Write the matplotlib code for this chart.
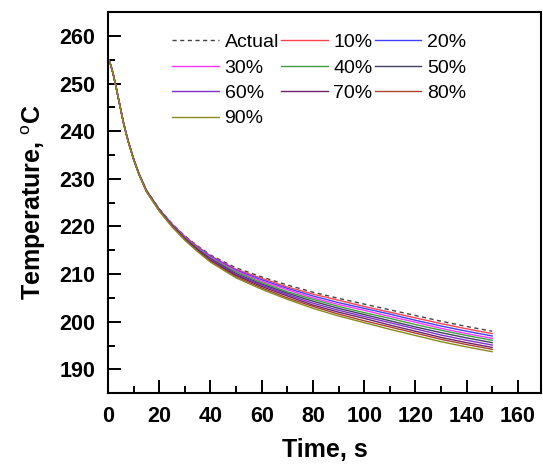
import matplotlib
matplotlib.use("Agg")
import matplotlib.pyplot as plt
from matplotlib.ticker import MultipleLocator

plt.rcParams['font.family'] = ['Liberation Sans', 'DejaVu Sans']
plt.rcParams['mathtext.fontset'] = 'custom'
plt.rcParams['mathtext.rm'] = 'Liberation Sans'
plt.rcParams['mathtext.bf'] = 'Liberation Sans:bold'

time_s = [0, 1, 2, 3, 4, 5, 6, 7, 8, 10, 12, 15, 20, 25, 30, 35, 40, 50, 60, 70, 80, 90, 100, 110, 120, 130, 140, 150]

actual = [255.3, 254.0, 252.0, 249.6, 247.0, 244.4, 241.9, 239.7, 237.7, 234.2, 231.2, 227.6, 223.7, 220.6, 218.0, 215.9, 214.0, 211.3, 209.4, 207.7, 206.2, 204.9, 203.7, 202.5, 201.3, 200.1, 199.0, 198.0]
p10 = [255.3, 254.0, 252.0, 249.6, 247.0, 244.4, 241.9, 239.7, 237.7, 234.2, 231.2, 227.6, 223.6, 220.5, 217.9, 215.8, 213.8, 211.0, 209.1, 207.3, 205.8, 204.5, 203.2, 202.0, 200.8, 199.6, 198.5, 197.5]
p20 = [255.3, 254.0, 252.0, 249.6, 247.0, 244.4, 241.9, 239.7, 237.7, 234.2, 231.2, 227.5, 223.6, 220.4, 217.8, 215.6, 213.7, 210.8, 208.8, 207.0, 205.4, 204.0, 202.8, 201.6, 200.3, 199.1, 198.0, 197.0]
p30 = [255.3, 254.0, 252.0, 249.6, 247.0, 244.4, 241.9, 239.7, 237.7, 234.1, 231.1, 227.5, 223.5, 220.4, 217.7, 215.5, 213.5, 210.6, 208.5, 206.7, 205.0, 203.6, 202.4, 201.1, 199.9, 198.6, 197.5, 196.5]
p40 = [255.3, 254.0, 252.0, 249.6, 247.0, 244.4, 241.9, 239.7, 237.7, 234.1, 231.1, 227.5, 223.5, 220.3, 217.6, 215.4, 213.3, 210.4, 208.2, 206.3, 204.7, 203.2, 201.9, 200.7, 199.4, 198.2, 197.1, 196.1]
p50 = [255.3, 254.0, 252.0, 249.6, 247.0, 244.4, 241.8, 239.6, 237.6, 234.1, 231.1, 227.4, 223.4, 220.2, 217.5, 215.2, 213.2, 210.1, 207.9, 206.0, 204.3, 202.8, 201.5, 200.2, 198.9, 197.7, 196.6, 195.6]
p60 = [255.3, 254.0, 252.0, 249.6, 247.0, 244.4, 241.8, 239.6, 237.6, 234.1, 231.1, 227.4, 223.4, 220.1, 217.4, 215.1, 213.0, 209.9, 207.7, 205.7, 203.9, 202.4, 201.1, 199.8, 198.5, 197.2, 196.1, 195.1]
p70 = [255.3, 254.0, 252.0, 249.6, 247.0, 244.4, 241.8, 239.6, 237.6, 234.0, 231.0, 227.4, 223.3, 220.1, 217.3, 215.0, 212.8, 209.7, 207.4, 205.4, 203.5, 202.0, 200.7, 199.3, 198.0, 196.7, 195.6, 194.6]
p80 = [255.3, 254.0, 252.0, 249.6, 247.0, 244.4, 241.8, 239.6, 237.6, 234.0, 231.0, 227.3, 223.3, 220.0, 217.2, 214.8, 212.7, 209.4, 207.1, 205.0, 203.2, 201.6, 200.2, 198.9, 197.6, 196.3, 195.2, 194.2]
p90 = [255.3, 254.0, 252.0, 249.6, 247.0, 244.4, 241.8, 239.6, 237.6, 234.0, 231.0, 227.3, 223.2, 219.9, 217.1, 214.7, 212.5, 209.2, 206.8, 204.7, 202.8, 201.2, 199.8, 198.4, 197.1, 195.8, 194.7, 193.7]

series_labels = ['10%', '20%', '30%', '40%', '50%', '60%', '70%', '80%', '90%']
series_values = [p10, p20, p30, p40, p50, p60, p70, p80, p90]
series_colors = ['#FF4050', '#4040FF', '#FF33FF', '#40A040', '#404060',
                 '#8030C8', '#702068', '#A8402C', '#8A8A20']

fig = plt.figure(figsize=(5.43, 4.68), dpi=100)
ax = fig.add_axes([0.199, 0.160, 0.797, 0.814])

handles = []
h, = ax.plot(time_s, actual, linestyle=(0, (3, 2.5)), color='#444444', lw=1.0, label='Actual')
handles.append(h)
for lab, vals, col in zip(series_labels, series_values, series_colors):
    h, = ax.plot(time_s, vals, color=col, lw=1.0, label=lab)
    handles.append(h)

ax.set_xlim(0, 169)
ax.set_ylim(185, 265)
ax.xaxis.set_major_locator(MultipleLocator(20))
ax.xaxis.set_minor_locator(MultipleLocator(10))
ax.yaxis.set_major_locator(MultipleLocator(10))
ax.yaxis.set_minor_locator(MultipleLocator(5))
ax.tick_params(which='major', direction='in', length=9.5, width=1.4, labelsize=15.5, pad=9)
ax.tick_params(which='minor', direction='in', length=5, width=1.4)
for lbl in ax.get_xticklabels() + ax.get_yticklabels():
    lbl.set_fontweight('bold')
for sp in ax.spines.values():
    sp.set_linewidth(1.5)

ax.set_xlabel('Time, s', fontsize=18, fontweight='bold', labelpad=8)
ax.set_ylabel(r'Temperature, $^{\rm o}$C', fontsize=18, fontweight='bold', labelpad=8)

# row-major order: Actual,10,20 / 30,40,50 / 60,70,80 / 90
order = [0, 3, 6, 9, 1, 4, 7, 2, 5, 8]
ax.legend([handles[i] for i in order], [handles[i].get_label() for i in order],
          ncol=3, frameon=False, fontsize=14, handlelength=2.4, handletextpad=0.3,
          columnspacing=0.1, labelspacing=0.4, loc='upper left',
          bbox_to_anchor=(0.13, 0.964), borderaxespad=0.0)

fig.savefig('out.png', dpi=100)
